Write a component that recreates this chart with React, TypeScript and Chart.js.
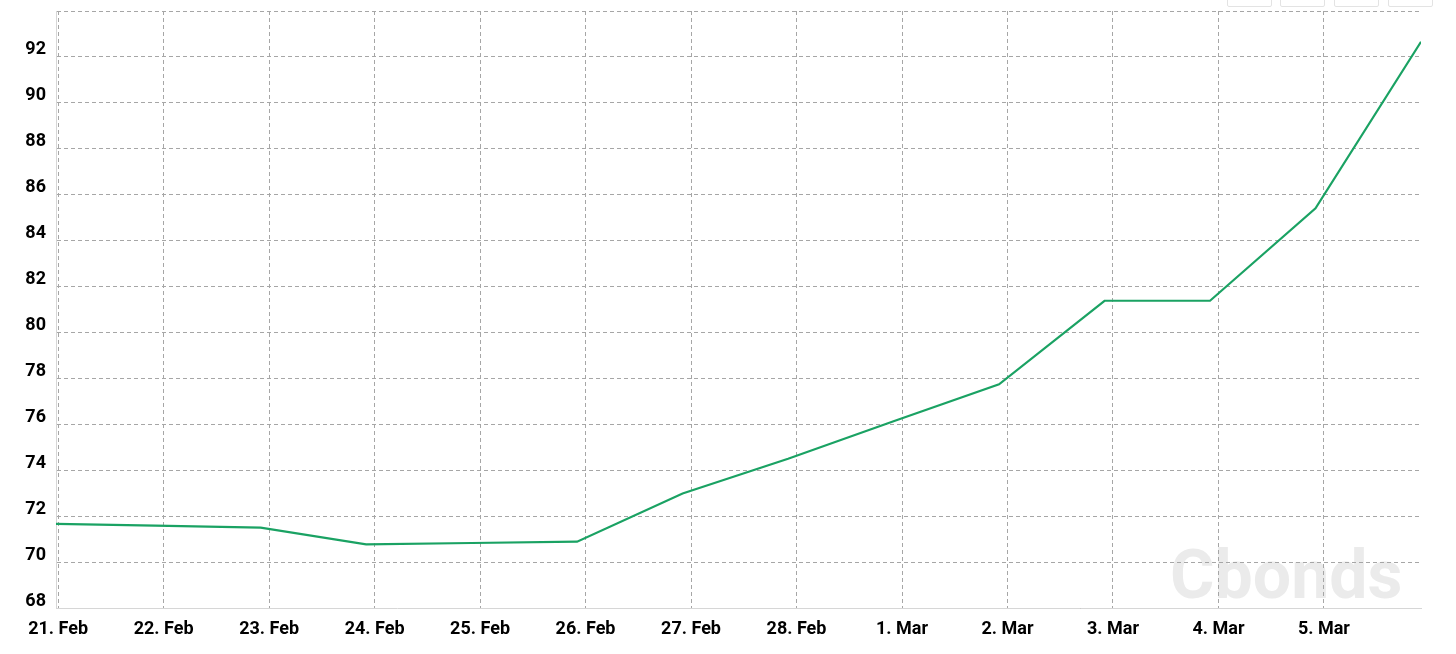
import React, { useEffect, useRef } from 'react';
import { Chart, registerables } from 'chart.js';

Chart.register(...registerables);

// Tick labels on the date axis (one per day, 21 Feb = day 0)
const tickLabels = ['21. Feb', '22. Feb', '23. Feb', '24. Feb', '25. Feb', '26. Feb', '27. Feb', '28. Feb', '1. Mar', '2. Mar', '3. Mar', '4. Mar', '5. Mar'];
const tickDays = [0, 1, 2, 3, 4, 5, 6, 7, 8, 9, 10, 11, 12];

// Data points (day offset from 21 Feb, price)
const pointDays = [-0.08, 0.92, 1.92, 2.92, 3.92, 4.92, 5.92, 6.92, 7.92, 8.92, 9.92, 10.92, 11.92, 12.92];
const prices = [71.67, 71.59, 71.5, 70.77, 70.83, 70.89, 72.99, 74.5, 76.13, 77.74, 81.38, 81.38, 85.41, 92.66];

// Value axis ticks
const yTicks = [68, 70, 72, 74, 76, 78, 80, 82, 84, 86, 88, 90, 92, 94];

const watermarkText = 'Cbonds';

const LABEL_FONT = { family: 'Roboto', size: 18, weight: 'bold' as const };

export default function App() {
  const canvasRef = useRef<HTMLCanvasElement | null>(null);

  useEffect(() => {
    const canvas = canvasRef.current;
    if (!canvas) return;

    const watermark = {
      id: 'watermark',
      beforeDraw(chart: any) {
        const ctx = chart.ctx;
        ctx.save();
        ctx.font = 'bold 68px Roboto';
        ctx.fillStyle = '#ebebeb';
        ctx.textBaseline = 'alphabetic';
        ctx.textAlign = 'left';
        ctx.fillText(watermarkText, 1170, 598);
        ctx.restore();
      },
    };

    const chart = new Chart(canvas, {
      type: 'line',
      data: {
        datasets: [
          {
            data: pointDays.map((d, i) => ({ x: d, y: prices[i] })),
            borderColor: '#1aa263',
            borderWidth: 2.2,
            pointRadius: 0,
            pointHoverRadius: 0,
            tension: 0,
            fill: false,
          },
        ],
      },
      options: {
        animation: false,
        responsive: false,
        devicePixelRatio: 1,
        layout: { padding: { top: 11, right: 35, bottom: 0, left: 0 } },
        plugins: {
          legend: { display: false },
          tooltip: { enabled: false },
        },
        scales: {
          x: {
            type: 'linear',
            min: -0.02,
            max: 12.92,
            afterBuildTicks: (s: any) => {
              s.ticks = tickDays.map((v) => ({ value: v }));
            },
            afterFit: (s: any) => {
              s.height = 46;
              s.paddingLeft = 0;
              s.paddingRight = 0;
            },
            ticks: {
              autoSkip: false,
              maxRotation: 0,
              minRotation: 0,
              padding: 11,
              color: '#000',
              font: LABEL_FONT,
              callback: (_v: any, i: number) => tickLabels[i],
            },
            grid: {
              color: '#a6a6a6',
              lineWidth: 1,
              drawTicks: false,
              tickLength: 0,
            },
            border: { display: true, color: '#d6d6d6', width: 1, dash: [4, 3] },
          },
          y: {
            type: 'linear',
            min: 68,
            max: 94,
            afterBuildTicks: (s: any) => {
              s.ticks = yTicks.map((v) => ({ value: v }));
            },
            afterFit: (s: any) => {
              s.width = 56;
              s.paddingTop = 0;
              s.paddingBottom = 0;
            },
            ticks: {
              padding: 10,
              labelOffset: -7,
              color: '#000',
              font: LABEL_FONT,
              callback: (v: any) => (v === 94 ? '' : String(v)),
            },
            grid: {
              color: '#a6a6a6',
              lineWidth: 1,
              drawTicks: false,
              tickLength: 0,
            },
            border: { display: true, color: '#d6d6d6', width: 1, dash: [4, 3] },
          },
        },
      },
      plugins: [watermark],
    });

    return () => chart.destroy();
  }, []);

  const btnLefts = [1227, 1280, 1334, 1388];

  return (
    <div style={{ position: 'fixed', left: 0, top: 0, width: 1456, height: 654, background: '#fff', overflow: 'hidden' }}>
      <canvas ref={canvasRef} width={1456} height={654} style={{ display: 'block', width: 1456, height: 654 }} />
      {btnLefts.map((l) => (
        <div
          key={l}
          style={{
            position: 'absolute',
            left: l,
            top: -20,
            width: 43,
            height: 25,
            border: '1px solid #e3e3e3',
            borderRadius: 2,
            background: '#fff',
          }}
        />
      ))}
    </div>
  );
}
